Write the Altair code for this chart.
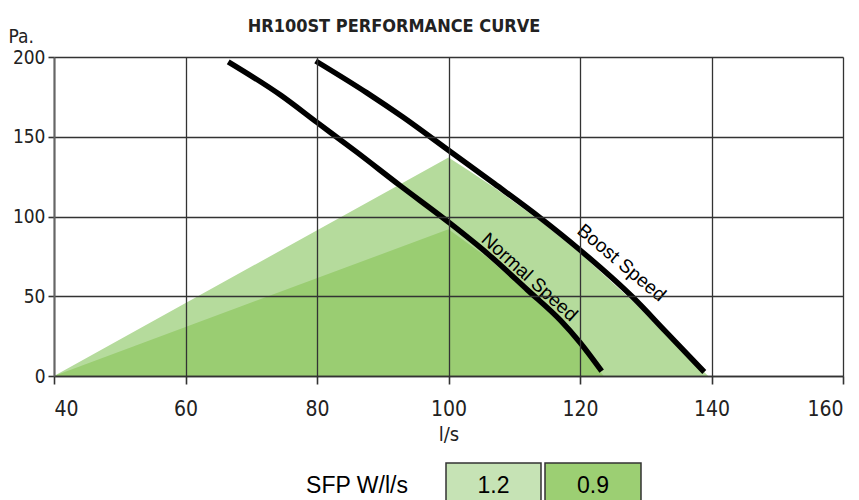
import altair as alt
import pandas as pd

# ---- data ----
normal_x = [66.5, 74.5, 80, 86, 92.6, 100, 106, 112, 117, 120, 123.3]
normal_y = [197, 176, 159, 140.5, 119.5, 96.5, 76.5, 54, 35, 21, 3]

boost_x = [79.8, 87.6, 93, 100, 107, 114, 120, 128, 133, 138.9]
boost_y = [197.5, 177.5, 162.5, 141.5, 120.5, 99, 79, 49.5, 28, 2.5]

# SFP regions (upper boundary of each filled area)
sfp12_x = [40, 100, 103, 107, 114, 120, 128, 133, 139.5]
sfp12_y = [0, 137, 129, 118, 97, 77, 47, 26, 0]
sfp09_x = [40, 100, 106, 112, 117, 120, 123.6]
sfp09_y = [0, 92, 74, 52, 33, 19, 0]

x_ticks = [40, 60, 80, 100, 120, 140, 160]
y_ticks = [0, 50, 100, 150, 200]

legend_labels = ["1.2", "0.9"]
legend_colors = ["#c6e3b5", "#9ccf73"]
area_light = "#b5db9c"
area_dark = "#9acd72"

NARROW = "DejaVu Sans Condensed, Liberation Sans Narrow, sans-serif"
SANS = "Liberation Sans, Arial, sans-serif"

W, H = 789, 319

xs = alt.Scale(domain=[40, 160], nice=False, zero=False)
ys = alt.Scale(domain=[0, 200], nice=False, zero=False)

x_axis = alt.Axis(values=x_ticks, grid=True, gridColor="#333333", gridWidth=1.3,
                  domainColor="#333333", domainWidth=1.6, tickColor="#333333",
                  tickWidth=1.6, tickSize=8, labelFont=NARROW, labelFontSize=21,
                  labelColor="#222222", labelPadding=14, title="l/s",
                  titleFont=NARROW, titleFontSize=20, titleFontWeight="normal",
                  titleColor="#222222", titleBaseline="alphabetic", titleY=64,
                  zindex=1)
y_axis = alt.Axis(values=y_ticks, grid=True, gridColor="#333333", gridWidth=1.3,
                  domainColor="#666666", domainWidth=2, tickColor="#333333",
                  tickWidth=1.6, tickSize=6, labelFont=NARROW, labelFontSize=19,
                  labelColor="#222222", labelPadding=3, title="Pa.",
                  titleFont=NARROW, titleFontSize=19, titleFontWeight="normal",
                  titleColor="#222222", titleAngle=0, titleAlign="left",
                  titleBaseline="alphabetic", titleX=-46, titleY=-15, zindex=1)

light_df = pd.DataFrame({"x": sfp12_x, "y": sfp12_y})
dark_df = pd.DataFrame({"x": sfp09_x, "y": sfp09_y})
normal_df = pd.DataFrame({"x": normal_x, "y": normal_y})
boost_df = pd.DataFrame({"x": boost_x, "y": boost_y})

base_x = alt.X("x:Q", scale=xs, axis=x_axis)
base_y = alt.Y("y:Q", scale=ys, axis=y_axis)

light = alt.Chart(light_df).mark_area(color=area_light, opacity=1, interpolate="linear").encode(
    x=base_x, y=base_y)
dark = alt.Chart(dark_df).mark_area(color=area_dark, opacity=1, interpolate="linear").encode(
    x=alt.X("x:Q", scale=xs), y=alt.Y("y:Q", scale=ys))

normal = alt.Chart(normal_df).mark_line(color="black", strokeWidth=5.5, strokeCap="butt",
                                        strokeJoin="round", interpolate="monotone").encode(
    x=alt.X("x:Q", scale=xs), y=alt.Y("y:Q", scale=ys))
boost = alt.Chart(boost_df).mark_line(color="black", strokeWidth=5.5, strokeCap="butt",
                                      strokeJoin="round", interpolate="monotone").encode(
    x=alt.X("x:Q", scale=xs), y=alt.Y("y:Q", scale=ys))

labels_df = pd.DataFrame({"x": [112.3, 126.3], "y": [62, 71],
                          "t": ["Normal Speed", "Boost Speed"]})
lbl_normal = alt.Chart(labels_df.iloc[[0]]).mark_text(
    font=SANS, fontSize=19, angle=42, align="center", baseline="middle", color="black").encode(
    x=alt.X("x:Q", scale=xs), y=alt.Y("y:Q", scale=ys), text="t:N")
lbl_boost = alt.Chart(labels_df.iloc[[1]]).mark_text(
    font=SANS, fontSize=19, angle=40, align="center", baseline="middle", color="black").encode(
    x=alt.X("x:Q", scale=xs), y=alt.Y("y:Q", scale=ys), text="t:N")

one = pd.DataFrame({"t": ["HR100ST PERFORMANCE CURVE"]})
title = alt.Chart(one).mark_text(font=NARROW, fontSize=18, fontWeight="bold", align="center",
                                 baseline="alphabetic", color="#222222").encode(
    x=alt.value(340), y=alt.value(-25), text="t:N")

sfp = alt.Chart(pd.DataFrame({"t": ["SFP W/l/s"]})).mark_text(
    font=SANS, fontSize=23, align="center", baseline="middle", color="black").encode(
    x=alt.value(303), y=alt.value(429), text="t:N")

legend_layers = []
box_x = [(392, 487), (491, 587)]
for lab, col, (x0, x1) in zip(legend_labels, legend_colors, box_x):
    d = pd.DataFrame({"t": [lab]})
    legend_layers.append(alt.Chart(d).mark_rect(fill=col, stroke="#333333", strokeWidth=1.5).encode(
        x=alt.value(x0), x2=alt.value(x1), y=alt.value(406), y2=alt.value(460)))
    legend_layers.append(alt.Chart(d).mark_text(font=SANS, fontSize=23, align="center",
                                                baseline="middle", color="black").encode(
        x=alt.value((x0 + x1) / 2), y=alt.value(429), text="t:N"))

chart = alt.layer(light, dark, normal, boost, lbl_normal, lbl_boost, title, sfp,
                  *legend_layers).properties(
    width=W, height=H,
    autosize=alt.AutoSizeParams(type="none"),
    padding={"left": 46, "top": 49, "right": 8, "bottom": 130},
).configure_view(stroke=None).configure(background="white")

chart.save("out.html", embed_options={"renderer": "svg", "actions": False})
